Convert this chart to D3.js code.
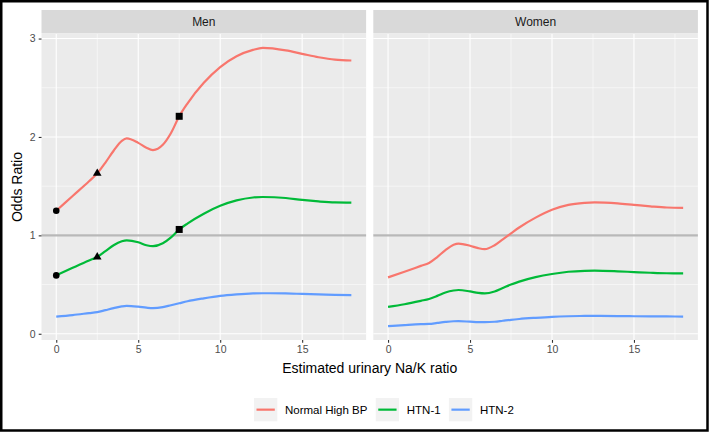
<!DOCTYPE html>
<html>
<head>
<meta charset="utf-8">
<script src="https://cdn.jsdelivr.net/npm/d3@7"></script>
<style>
  body { margin: 0; background: #fff; }
  text { font-family: "Liberation Sans", Arial, sans-serif; }
</style>
</head>
<body>
<div id="chart"></div>
<script>
// x positions of the smoothed curves (estimated urinary Na/K ratio)
const naK = [0, 1, 2, 2.5, 3, 3.5, 4, 4.3, 5, 5.5, 5.9, 6.5, 7, 7.5, 8, 9, 10, 11, 12, 12.6, 14, 15, 16, 17, 18];

// odds ratios
const menNormal = [1.25, 1.40, 1.55, 1.63, 1.74, 1.86, 1.96, 1.985, 1.94, 1.89, 1.867, 1.92, 2.04, 2.21, 2.34, 2.55, 2.71, 2.82, 2.885, 2.905, 2.88, 2.845, 2.81, 2.785, 2.777];
const menHtn1 = [0.593, 0.67, 0.745, 0.78, 0.84, 0.90, 0.94, 0.95, 0.93, 0.90, 0.89, 0.92, 0.98, 1.06, 1.12, 1.22, 1.30, 1.355, 1.385, 1.39, 1.38, 1.36, 1.345, 1.335, 1.333];
const menHtn2 = [0.175, 0.19, 0.21, 0.22, 0.24, 0.26, 0.278, 0.283, 0.275, 0.265, 0.26, 0.27, 0.29, 0.31, 0.33, 0.36, 0.385, 0.40, 0.41, 0.412, 0.41, 0.405, 0.40, 0.395, 0.393];
const womenNormal = [0.573, 0.63, 0.69, 0.72, 0.78, 0.85, 0.905, 0.917, 0.895, 0.87, 0.86, 0.90, 0.96, 1.02, 1.08, 1.18, 1.26, 1.31, 1.33, 1.335, 1.325, 1.31, 1.295, 1.283, 1.28];
const womenHtn1 = [0.273, 0.30, 0.335, 0.354, 0.385, 0.42, 0.44, 0.445, 0.43, 0.415, 0.41, 0.43, 0.465, 0.50, 0.53, 0.575, 0.607, 0.63, 0.64, 0.642, 0.635, 0.627, 0.62, 0.615, 0.614];
const womenHtn2 = [0.078, 0.088, 0.097, 0.10, 0.11, 0.12, 0.127, 0.128, 0.123, 0.119, 0.118, 0.122, 0.132, 0.142, 0.15, 0.162, 0.172, 0.178, 0.181, 0.182, 0.18, 0.178, 0.177, 0.176, 0.175];

const panelNames = ["Men", "Women"];
const seriesNames = ["Normal High BP", "HTN-1", "HTN-2"];
const seriesColors = ["#F8766D", "#00BA38", "#619CFF"];
const panelSeries = [[menNormal, menHtn1, menHtn2], [womenNormal, womenHtn1, womenHtn2]];

// highlighted points (Men panel, first two series)
const markerX = [0, 2.5, 7.5];
const markerShapes = [d3.symbolCircle, d3.symbolTriangle, d3.symbolSquare];
const markerSizes = [34, 32, 49];

const xTicks = [0, 5, 10, 15];
const xMinor = [2.5, 7.5, 12.5, 17.5];
const yTicks = [0, 1, 2, 3];
const yMinor = [0.5, 1.5, 2.5];
const refLine = 1;

const W = 709, H = 432;
const panelTop = 34, panelBottom = 340, stripTop = 10;
const panelLeft = [41.5, 373.3], panelWidth = 324.6;
const fontStack = '"Liberation Sans", Arial, sans-serif';

const svg = d3.select("#chart").append("svg")
  .attr("width", W).attr("height", H);

// ggplot-like 5% expansion
const xExt = d3.extent(naK), xPad = (xExt[1] - xExt[0]) * 0.05;
const allY = panelSeries.flat(2);
const yExt = d3.extent(allY), yPad = (yExt[1] - yExt[0]) * 0.05;
const y = d3.scaleLinear().domain([yExt[0] - yPad, yExt[1] + yPad]).range([panelBottom, panelTop]);

panelNames.forEach((name, p) => {
  const x = d3.scaleLinear()
    .domain([xExt[0] - xPad, xExt[1] + xPad])
    .range([panelLeft[p], panelLeft[p] + panelWidth]);
  const g = svg.append("g");

  // strip
  g.append("rect").attr("x", panelLeft[p]).attr("y", stripTop)
    .attr("width", panelWidth).attr("height", panelTop - stripTop - 0.5)
    .attr("fill", "#D9D9D9");
  g.append("text").attr("x", panelLeft[p] + panelWidth / 2).attr("y", (stripTop + panelTop) / 2)
    .attr("dy", "0.35em").attr("text-anchor", "middle")
    .attr("font-size", 12).attr("fill", "#1A1A1A").text(name);

  // panel background and grid
  g.append("rect").attr("x", panelLeft[p]).attr("y", panelTop)
    .attr("width", panelWidth).attr("height", panelBottom - panelTop)
    .attr("fill", "#EBEBEB");
  g.selectAll(".ymin").data(yMinor).join("line")
    .attr("x1", panelLeft[p]).attr("x2", panelLeft[p] + panelWidth)
    .attr("y1", d => y(d)).attr("y2", d => y(d))
    .attr("stroke", "#fff").attr("stroke-width", 0.55);
  g.selectAll(".xmin").data(xMinor).join("line")
    .attr("y1", panelTop).attr("y2", panelBottom)
    .attr("x1", d => x(d)).attr("x2", d => x(d))
    .attr("stroke", "#fff").attr("stroke-width", 0.55);
  g.selectAll(".ymaj").data(yTicks).join("line")
    .attr("x1", panelLeft[p]).attr("x2", panelLeft[p] + panelWidth)
    .attr("y1", d => y(d)).attr("y2", d => y(d))
    .attr("stroke", "#fff").attr("stroke-width", 1.1);
  g.selectAll(".xmaj").data(xTicks).join("line")
    .attr("y1", panelTop).attr("y2", panelBottom)
    .attr("x1", d => x(d)).attr("x2", d => x(d))
    .attr("stroke", "#fff").attr("stroke-width", 1.1);

  // reference line at OR = 1
  g.append("line")
    .attr("x1", panelLeft[p]).attr("x2", panelLeft[p] + panelWidth)
    .attr("y1", y(refLine)).attr("y2", y(refLine))
    .attr("stroke", "#B8B8B8").attr("stroke-width", 2.2);

  // x axis
  const xAxis = g.append("g").attr("transform", `translate(0,${panelBottom})`)
    .call(d3.axisBottom(x).tickValues(xTicks).tickSize(2.8).tickPadding(2.5).tickFormat(d3.format("d")));
  xAxis.select(".domain").remove();
  xAxis.selectAll("line").attr("stroke", "#333").attr("stroke-width", 1.1);
  xAxis.selectAll("text").attr("fill", "#4D4D4D").attr("font-size", 10.5)
    .style("font-family", fontStack);

  // curves
  const line = d3.line()
    .x((d, i) => x(naK[i]))
    .y(d => y(d))
    .curve(d3.curveMonotoneX);
  panelSeries[p].forEach((vals, s) => {
    g.append("path").attr("d", line(vals))
      .attr("fill", "none").attr("stroke", seriesColors[s])
      .attr("stroke-width", 2.2).attr("stroke-linejoin", "round");
  });

  // markers on Men panel
  if (p === 0) {
    [0, 1].forEach(s => {
      markerX.forEach((mx, m) => {
        const idx = naK.indexOf(mx);
        g.append("path")
          .attr("d", d3.symbol().type(markerShapes[m]).size(markerSizes[m])())
          .attr("transform", `translate(${x(mx)},${y(panelSeries[p][s][idx])})`)
          .attr("fill", "#000");
      });
    });
  }
});

// y axis (left of Men panel)
const yAxis = svg.append("g").attr("transform", `translate(${panelLeft[0]},0)`)
  .call(d3.axisLeft(y).tickValues(yTicks).tickSize(2.8).tickPadding(3).tickFormat(d3.format("d")));
yAxis.select(".domain").remove();
yAxis.selectAll("line").attr("stroke", "#333").attr("stroke-width", 1.1);
yAxis.selectAll("text").attr("fill", "#4D4D4D").attr("font-size", 10.5)
  .style("font-family", fontStack);

// axis titles
svg.append("text")
  .attr("x", (panelLeft[0] + panelLeft[1] + panelWidth) / 2).attr("y", 373)
  .attr("text-anchor", "middle").attr("font-size", 14).attr("fill", "#000")
  .text("Estimated urinary Na/K ratio");
svg.append("text")
  .attr("transform", `translate(21.5,${(panelTop + panelBottom) / 2}) rotate(-90)`)
  .attr("text-anchor", "middle").attr("font-size", 14).attr("fill", "#000")
  .text("Odds Ratio");

// legend
const legend = svg.append("g");
let lx = 254;
const ly = 398, keySize = 23.3;
seriesNames.forEach((nm, s) => {
  legend.append("rect").attr("x", lx).attr("y", ly).attr("width", keySize).attr("height", keySize)
    .attr("fill", "#F2F2F2");
  legend.append("line").attr("x1", lx + 2.5).attr("x2", lx + keySize - 2.5)
    .attr("y1", ly + keySize / 2).attr("y2", ly + keySize / 2)
    .attr("stroke", seriesColors[s]).attr("stroke-width", 2.2);
  const t = legend.append("text").attr("x", lx + keySize + 7.7).attr("y", ly + keySize / 2)
    .attr("dy", "0.35em").attr("font-size", 11.5).attr("fill", "#000").text(nm);
  lx += keySize + 7.7 + t.node().getComputedTextLength() + 8.3;
});

// outer frame
svg.append("rect").attr("x", 1.25).attr("y", 1.25).attr("width", 706.25).attr("height", 429.25)
  .attr("fill", "none").attr("stroke", "#000").attr("stroke-width", 2.5);
</script>
</body>
</html>
